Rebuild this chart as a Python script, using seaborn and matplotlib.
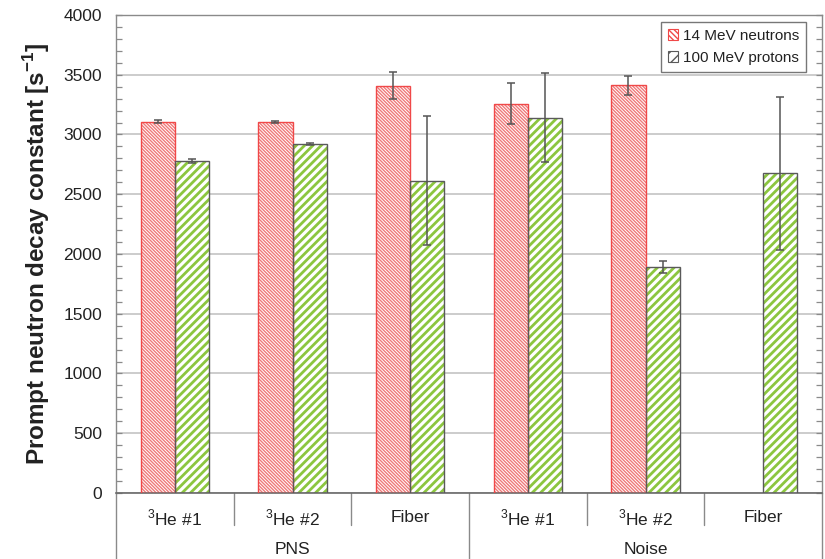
import numpy as np
import pandas as pd
import matplotlib
matplotlib.use("Agg")
import matplotlib.pyplot as plt
from matplotlib.patches import Patch
from matplotlib.ticker import MultipleLocator
import matplotlib.transforms as mtransforms
import seaborn as sns

# ---- data ----------------------------------------------------------------
detectors = ["$^{3}$He #1", "$^{3}$He #2", "Fiber", "$^{3}$He #1", "$^{3}$He #2", "Fiber"]
methods = ["PNS", "Noise"]
sources = ["14 MeV neutrons", "100 MeV protons"]

neutron_vals = [3108, 3105, 3408, 3257, 3410, np.nan]
neutron_errs = [10, 10, 112, 172, 80, np.nan]
proton_vals = [2778, 2917, 2611, 3141, 1890, 2675]
proton_errs = [15, 8, 540, 372, 50, 640]

n_cat = len(detectors)
rows = []
for i in range(n_cat):
    rows.append({"cat": i, "source": sources[0], "value": neutron_vals[i], "err": neutron_errs[i]})
    rows.append({"cat": i, "source": sources[1], "value": proton_vals[i], "err": proton_errs[i]})
df = pd.DataFrame(rows)

# ---- style -----------------------------------------------------------------
sns.set_theme(style="white")
plt.rcParams["font.family"] = ["Liberation Sans", "DejaVu Sans"]
plt.rcParams["mathtext.fontset"] = "custom"
plt.rcParams["mathtext.rm"] = "Liberation Sans"
plt.rcParams["mathtext.bf"] = "Liberation Sans:bold"

red_hatch = "#f07a7a"
red_edge = "#f04848"
green_hatch = "#8cc63f"
green_edge = "#5a5a5a"
grid_col = "#c4c4c4"
axis_col = "#8a8a8a"
text_col = "#222222"

red_pattern = "\\" * 10
green_pattern = "////"

fig = plt.figure(figsize=(8.25, 5.59), dpi=100)
ax = fig.add_axes([0.1406, 0.1181, 0.8558, 0.8551])

sns.barplot(data=df, x="cat", y="value", hue="source", hue_order=sources,
            order=list(range(n_cat)), errorbar=None, width=0.58, gap=0,
            dodge=True, ax=ax, legend=False)

styles = {
    sources[0]: dict(hatch_col=red_hatch, edge=red_edge, hatch=red_pattern, hlw=1.0),
    sources[1]: dict(hatch_col=green_hatch, edge=green_edge, hatch=green_pattern, hlw=2.0),
}

err_lookup = {(r.cat, r.source): (r.value, r.err) for r in df.itertuples()}

for container, src in zip(ax.containers, sources):
    st = styles[src]
    for p in container.patches:
        h = p.get_height()
        if not np.isfinite(h) or h == 0:
            continue
        p.set_facecolor("white")
        p.set_hatch(st["hatch"])
        p.set_edgecolor(st["hatch_col"])
        p.set_linewidth(0)
        if hasattr(p, "set_hatch_linewidth"):
            p.set_hatch_linewidth(st["hlw"])
        # outline drawn on top of the hatched fill
        ax.add_patch(plt.Rectangle((p.get_x(), p.get_y()), p.get_width(), h,
                                   fill=False, edgecolor=st["edge"], lw=1.0, zorder=3))
        cx = p.get_x() + p.get_width() / 2
        cat = int(round(cx))
        val, err = err_lookup[(cat, src)]
        ax.errorbar(cx, val, yerr=err, fmt="none", ecolor="#555555",
                    elinewidth=1.1, capsize=3, capthick=1.1, zorder=4)

# ---- axes ----------------------------------------------------------------
ax.set_xlim(-0.5, n_cat - 0.5)
ax.set_ylim(0, 4000)
ax.yaxis.set_major_locator(MultipleLocator(500))
ax.yaxis.set_minor_locator(MultipleLocator(100))
ax.grid(axis="y", which="major", color=grid_col, lw=1.2)
ax.set_axisbelow(True)
ax.tick_params(axis="y", which="both", direction="in", left=True, right=True,
               length=4, width=0.9, color=axis_col, labelsize=12.5,
               labelcolor=text_col, pad=10)
ax.tick_params(axis="x", bottom=False, labelbottom=False)
ax.set_xlabel("")
ax.set_ylabel(r"Prompt neutron decay constant [s$^{\mathbf{-1}}$]",
              fontsize=17.5, fontweight="bold", color=text_col, labelpad=8)

for side in ["left", "right", "top"]:
    ax.spines[side].set_color(axis_col)
    ax.spines[side].set_linewidth(1.0)
ax.spines["bottom"].set_color("#6a6a6a")
ax.spines["bottom"].set_linewidth(1.2)

# ---- category table below the axis ----------------------------------------
trans = mtransforms.blended_transform_factory(ax.transData, ax.transAxes)
short_drop = -0.068
full_drop = -0.14
group_size = n_cat // len(methods)
for b in range(n_cat + 1):
    edge = b - 0.5
    full = (b % group_size == 0)
    ax.plot([edge, edge], [0, full_drop if full else short_drop], transform=trans,
            color=axis_col, lw=1.0, clip_on=False)
for i, lab in enumerate(detectors):
    ax.text(i, -0.052, lab, transform=trans, ha="center", va="center",
            fontsize=12.5, color=text_col)
for g, m in enumerate(methods):
    center = g * group_size + (group_size - 1) / 2
    ax.text(center, -0.118, m, transform=trans, ha="center", va="center",
            fontsize=12.5, color=text_col)

# ---- legend --------------------------------------------------------------
handles = [
    Patch(facecolor="white", edgecolor=red_edge, hatch="\\" * 6, lw=0.8),
    Patch(facecolor="white", edgecolor=green_edge, hatch="///", lw=0.8),
]
leg = ax.legend(handles, sources, loc="upper right", bbox_to_anchor=(0.9775, 0.985),
                fontsize=11, frameon=True, fancybox=False, handlelength=0.7,
                handleheight=0.7, handletextpad=0.3, borderpad=0.45,
                labelspacing=0.5, borderaxespad=0)
leg.get_frame().set_edgecolor("#555555")
leg.get_frame().set_linewidth(1.0)
for t in leg.get_texts():
    t.set_color(text_col)

fig.savefig("out.png", dpi=100)
